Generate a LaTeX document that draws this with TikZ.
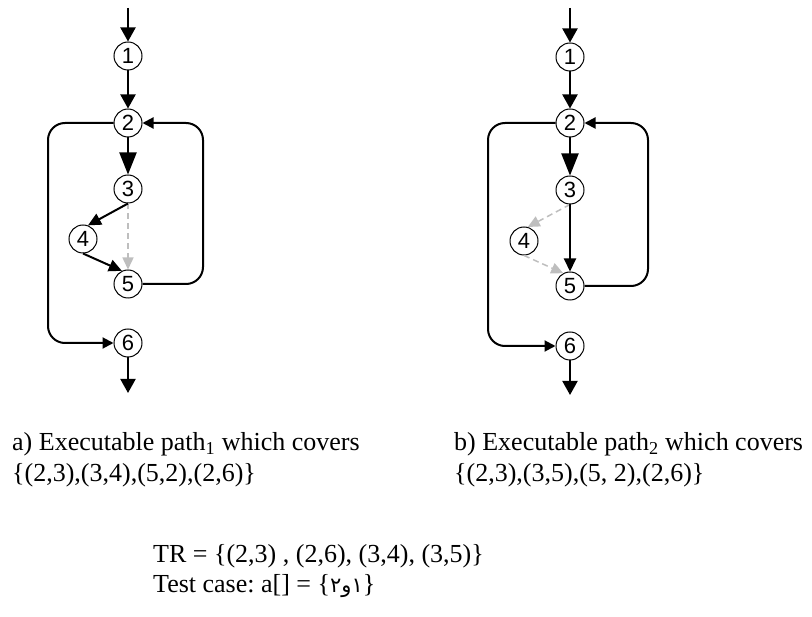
\documentclass[tikz,border=0pt]{standalone}
\usepackage{fontspec}
\setmainfont{Liberation Serif}
\newfontfamily\arialfont{Liberation Sans}
\newfontfamily\arabicfont[Script=Arabic]{DejaVu Sans}
\TeXXeTstate=1
\frenchspacing
\usetikzlibrary{arrows.meta}
\definecolor{dashgray}{RGB}{190,190,190}
\begin{document}
\begin{tikzpicture}[x=1pt,y=-1pt,
  vnode/.style={circle,draw,line width=1pt,fill=white,minimum size=28pt,inner sep=0pt,
    font=\arialfont\fontsize{22}{22}\selectfont},
  edge/.style={line width=2pt,-{Triangle[length=14pt,width=15pt]}},
  bigedge/.style={line width=2pt,-{Triangle[length=22pt,width=17pt]}},
  sideedge/.style={line width=2pt,-{Triangle[length=13pt,width=12pt]}},
  loopedge/.style={line width=2pt,rounded corners=17pt,-{Triangle[length=11pt,width=11pt]}},
  grayedge/.style={line width=1.5pt,dashgray,dash pattern=on 6pt off 4pt,
    -{Triangle[length=12pt,width=11pt,fill=dashgray]}},
  txt/.style={anchor=base west,inner sep=0pt,font=\fontsize{26}{30}\selectfont}]
\useasboundingbox (0,0) rectangle (812,617);
% ---------- left diagram ----------
\node[vnode] (n1) at (128,56) {1};
\node[vnode] (n2) at (128,123) {2};
\node[vnode] (n3) at (128,189) {3};
\node[vnode] (n4) at (83,239) {4};
\node[vnode] (n5) at (128,284) {5};
\node[vnode] (n6) at (128,343) {6};
\coordinate (nin) at (128,8);
\coordinate (nout) at (128,393);
\coordinate (nR1) at (203,284);
\coordinate (nR2) at (203,123);
\coordinate (nL1) at (48,123);
\coordinate (nL2) at (48,343);
\draw[edge] (nin) -- (n1);
\draw[edge] (n1) -- (n2);
\draw[bigedge] (n2) -- (n3);
\draw[grayedge] (n3.south) -- (n5.north);
\draw[sideedge] (n3.south) -- (n4.70);
\draw[sideedge] (n4.south) -- (n5.115);
\draw[loopedge] (n5.east) -- (nR1) -- (nR2) -- (n2.east);
\draw[loopedge] (n2.west) -- (nL1) -- (nL2) -- (n6.west);
\draw[edge] (n6) -- (nout);
% ---------- right diagram ----------
\node[vnode] (m1) at (570,57) {1};
\node[vnode] (m2) at (570,123) {2};
\node[vnode] (m3) at (570,190) {3};
\node[vnode] (m4) at (524,241) {4};
\node[vnode] (m5) at (570,286) {5};
\node[vnode] (m6) at (570,346) {6};
\coordinate (min) at (570,8);
\coordinate (mout) at (570,395);
\coordinate (mR1) at (648,286);
\coordinate (mR2) at (648,123);
\coordinate (mL1) at (488,123);
\coordinate (mL2) at (488,346);
\draw[edge] (min) -- (m1);
\draw[edge] (m1) -- (m2);
\draw[bigedge] (m2) -- (m3);
\draw[grayedge] (m3.south) -- (m4.75);
\draw[grayedge] (m4.south) -- (m5.118);
\draw[sideedge] (m3) -- (m5);
\draw[loopedge] (m5.east) -- (mR1) -- (mR2) -- (m2.east);
\draw[loopedge] (m2.west) -- (mL1) -- (mL2) -- (m6.west);
\draw[edge] (m6) -- (mout);
% ---------- texts ----------
\node[txt] (capa1) at (12,451) {a) Executable path\textsubscript{1} which covers};
\node[txt] (capa2) at (12,482) {\{(2,3),(3,4),(5,2),(2,6)\}};
\node[txt] (capb1) at (454,451) {b) Executable path\textsubscript{2} which covers};
\node[txt] (capb2) at (454,482) {\{(2,3),(3,5),(5, 2),(2,6)\}};
\node[txt] (tr) at (153,562) {TR = \{(2,3) , (2,6), (3,4), (3,5)\}};
\node[txt] (tc) at (153,592) {Test case: a[] = \{{\arabicfont\fontsize{21}{21}\selectfont\beginR ١و٢\endR}\}};
\end{tikzpicture}
\end{document}
